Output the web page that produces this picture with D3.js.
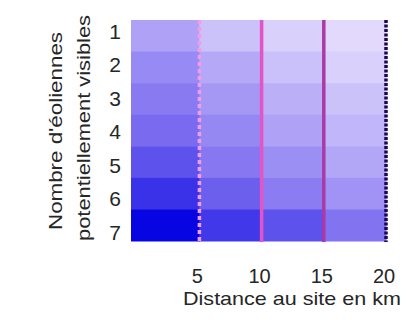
<!DOCTYPE html>
<html>
<head>
<meta charset="utf-8">
<script src="https://cdn.jsdelivr.net/npm/d3@7"></script>
<style>
  html, body { margin: 0; padding: 0; background: #fff; }
  svg { display: block; }
  text { font-family: "Liberation Sans", Arial, sans-serif; fill: #262626; }
</style>
</head>
<body>
<svg id="chart" width="413" height="327"></svg>
<script>
// ---- data ----
const rows = [1, 2, 3, 4, 5, 6, 7];               // Nombre d'éoliennes potentiellement visibles
const distanceBins = [0, 5, 10, 15];              // bin starts (km)
const binWidth = 5;
const xTicks = [5, 10, 15, 20];
// intensity per row (1..7), one array per distance bin
const bin0_5   = [0.27, 0.37, 0.44, 0.51, 0.62, 0.77, 0.97];
const bin5_10  = [0.13, 0.24, 0.31, 0.38, 0.45, 0.56, 0.74];
const bin10_15 = [0.07, 0.14, 0.21, 0.27, 0.35, 0.43, 0.62];
const bin15_20 = [0.03, 0.07, 0.13, 0.18, 0.25, 0.33, 0.47];
const binValues = [bin0_5, bin5_10, bin10_15, bin15_20];
const lineDistances = [5, 10, 15, 20];
const lineColors = ["#f39be6", "#e454c6", "#a93aa6", "#1c0650"];
const lineDash = ["4,3", null, null, "3,1.5"];
const xTitle = "Distance au site en km";
const yTitle = ["Nombre d'éoliennes", "potentiellement visibles"];

// ---- layout ----
const svg = d3.select("#chart");
const mLeft = 131, mRight = 386, mTop = 20, mBottom = 241;

const x = d3.scaleLinear().domain([-0.5, 20]).range([mLeft, mRight]);
const y = d3.scaleBand().domain(rows).range([mTop, mBottom]).padding(0);
const yLab = d3.scaleLinear().domain([1, 7]).range([31, 232]);
const color = d3.scaleLinear().domain([0, 0.5, 1])
  .range(["#e8e0fe", "#7c6cf0", "#0000e2"]).interpolate(d3.interpolateRgb);

// cells
const cells = [];
distanceBins.forEach((b, i) => {
  rows.forEach((r, j) => cells.push({ x0: i === 0 ? x.domain()[0] : b, x1: b + binWidth, row: r, v: binValues[i][j] }));
});
svg.append("g").selectAll("rect").data(cells).join("rect")
  .attr("x", d => x(d.x0))
  .attr("width", d => x(d.x1) - x(d.x0) + 0.5)
  .attr("y", d => y(d.row))
  .attr("height", y.bandwidth() + 0.5)
  .attr("fill", d => color(d.v));

// vertical lines
svg.append("g").selectAll("line").data(lineDistances).join("line")
  .attr("x1", d => x(d)).attr("x2", d => x(d))
  .attr("y1", mTop).attr("y2", mBottom + 1)
  .attr("stroke", (d, i) => lineColors[i])
  .attr("stroke-width", 3.5)
  .attr("stroke-dasharray", (d, i) => lineDash[i]);

// y labels
svg.append("g").selectAll("text").data(rows).join("text")
  .attr("x", 121).attr("y", d => yLab(d))
  .attr("text-anchor", "end").attr("dominant-baseline", "central")
  .attr("font-size", 21).text(d => d);

// x tick labels
svg.append("g").selectAll("text").data(xTicks).join("text")
  .attr("x", d => x(d) - 2).attr("y", 276)
  .attr("text-anchor", "middle").attr("dominant-baseline", "central")
  .attr("font-size", 20).text(d => d);

// x title
svg.append("text").attr("x", 292).attr("y", 298)
  .attr("text-anchor", "middle").attr("dominant-baseline", "central")
  .attr("font-size", 19)
  .attr("textLength", 218).attr("lengthAdjust", "spacingAndGlyphs")
  .text(xTitle);

// y title
yTitle.forEach((t, i) => {
  svg.append("text")
    .attr("transform", `translate(${i === 0 ? 55 : 83},${i === 0 ? 131 : 128}) rotate(-90)`)
    .attr("text-anchor", "middle").attr("dominant-baseline", "central")
    .attr("font-size", 19)
    .attr("textLength", i === 0 ? 198 : 226).attr("lengthAdjust", "spacingAndGlyphs")
    .text(t);
});
</script>
</body>
</html>
